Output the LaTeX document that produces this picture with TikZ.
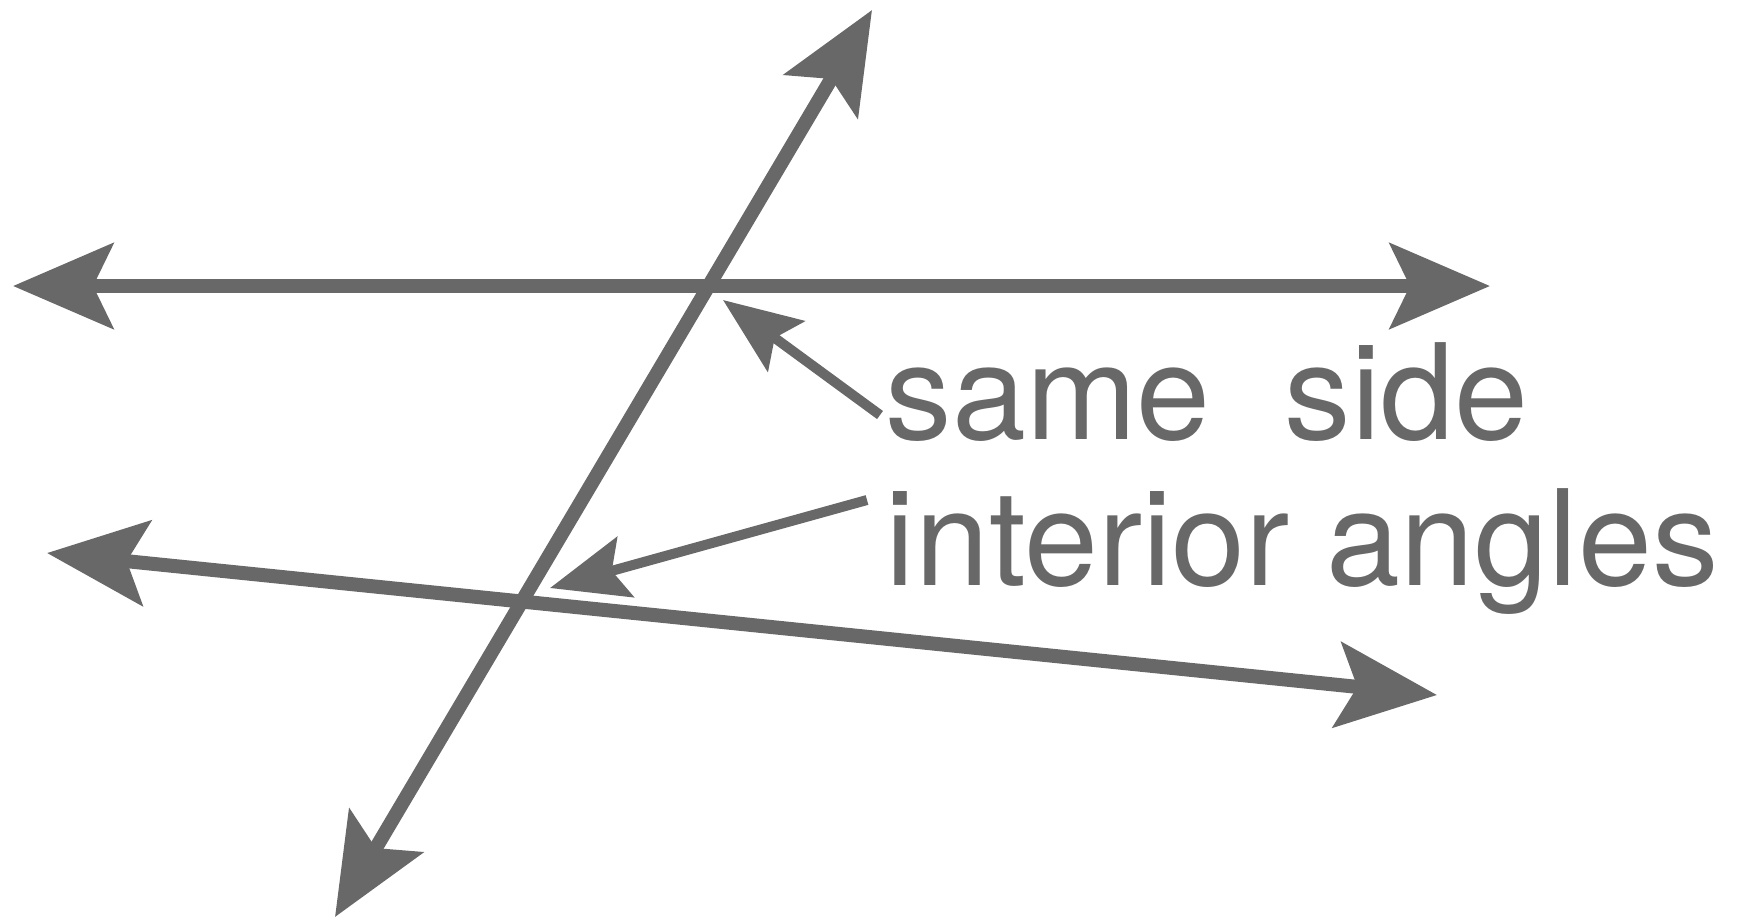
\documentclass[tikz,border=0pt]{standalone}
\usepackage{fontspec}
\setmainfont{TeX Gyre Heros}
\definecolor{lngray}{RGB}{104,104,104}
\usetikzlibrary{arrows.meta}

\begin{document}
\begin{tikzpicture}[x=0.01cm, y=-0.01cm,
  ln/.style={draw=lngray, line width=0.14cm, {Stealth[length=1.0cm, width=0.85cm, inset=0.2cm]}-{Stealth[length=1.0cm, width=0.85cm, inset=0.2cm]}},
  ptr/.style={draw=lngray, line width=0.10cm, -{Stealth[length=0.78cm, width=0.62cm, inset=0.14cm]}},
  lbl/.style={anchor=base west, inner sep=0pt, text=lngray, font=\fontsize{37.8}{45}\selectfont}]
\useasboundingbox (0,0) rectangle (1737,920);
% End points
\coordinate (topL) at (13,286);
\coordinate (topR) at (1490,286);
\coordinate (botL) at (47,553);
\coordinate (botR) at (1437,695);
\coordinate (trU) at (872,10);
\coordinate (trD) at (335,917);
\coordinate (angA) at (723,300);
\coordinate (angB) at (550,588);
% Lines
\draw[ln] (topL) -- (topR);
\draw[ln] (botL) -- (botR);
\draw[ln] (trD) -- (trU);
% Labels
\node[lbl] (same) at (885,439) {same\ \ side};
\node[lbl] (interior) at (885,585) {interior angles};
% Pointers
\coordinate (pA) at (880,415);
\coordinate (pB) at (867,500);
\draw[ptr] (pA) -- (angA);
\draw[ptr] (pB) -- (angB);
\end{tikzpicture}
\end{document}
